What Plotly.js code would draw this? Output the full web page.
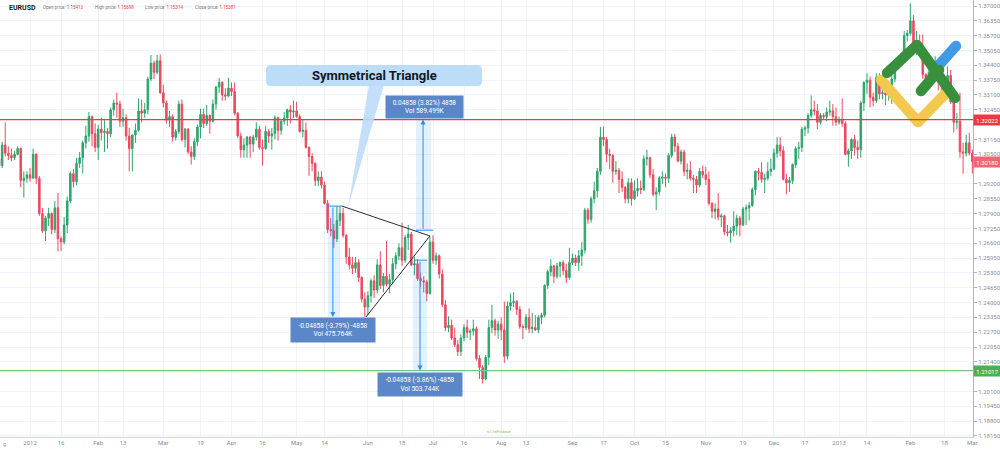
<!DOCTYPE html>
<html><head><meta charset="utf-8">
<script src="https://cdn.plot.ly/plotly-3.0.1.min.js"></script>
<style>html,body{margin:0;padding:0;background:#fff;}#chart{width:1000px;height:449px;}</style>
</head><body><div id="chart"></div>
<script>
// ---------------- data (EURUSD daily) ----------------
const symbol = 'EURUSD';
const headerLabels = ['Open price:', 'High price:', 'Low price:', 'Close price:'];
const headerValues = ['1.15413', '1.15698', '1.15314', '1.15381'];
const firstTradingDay = '2011-12-19';

const openPrices = [
1.3030,1.3000,1.3090,1.3055,1.3045,
1.3035,1.3050,1.3075,1.2935,1.2945,
1.2960,1.2945,1.3050,1.2945,1.2790,
1.2715,1.2770,1.2790,1.2720,1.2815,
1.2680,1.2665,1.2740,1.2845,1.2965,
1.2930,1.3010,1.3035,1.3100,1.3130,
1.3215,1.3140,1.3080,1.3160,1.3145,
1.3150,1.3140,1.3245,1.3275,1.3270,
1.3195,1.3210,1.3130,1.3075,1.3135,
1.3155,1.3240,1.3230,1.3245,1.3380,
1.3450,1.3410,1.3460,1.3320,1.3275,
1.3200,1.3215,1.3125,1.3150,1.3270,
1.3115,1.3160,1.3060,1.3040,1.3105,
1.3170,1.3225,1.3185,1.3220,1.3195,
1.3270,1.3345,1.3365,1.3310,1.3305,
1.3340,1.3325,1.3230,1.3130,1.3070,
1.3090,1.3125,1.3095,1.3125,1.3160,
1.3080,1.3075,1.3150,1.3130,1.3140,
1.3210,1.3155,1.3195,1.3210,1.3245,
1.3235,1.3240,1.3215,1.3150,1.3155,
1.3080,1.3040,1.3010,1.2935,1.2950,
1.2915,1.2835,1.2720,1.2715,1.2680,
1.2760,1.2790,1.2695,1.2600,1.2565,
1.2550,1.2575,1.2510,1.2415,1.2380,
1.2430,1.2495,1.2455,1.2565,1.2475,
1.2515,1.2480,1.2500,1.2570,1.2605,
1.2640,1.2585,1.2685,1.2700,1.2565,
1.2570,1.2505,1.2495,1.2490,1.2440,
1.2665,1.2585,1.2605,1.2525,1.2390,
1.2290,1.2300,1.2245,1.2215,1.2185,
1.2245,1.2290,1.2270,1.2275,1.2285,
1.2155,1.2115,1.2065,1.2160,1.2290,
1.2320,1.2280,1.2305,1.2280,1.2165,
1.2385,1.2400,1.2405,1.2370,1.2295,
1.2290,1.2335,1.2285,1.2290,1.2280,
1.2335,1.2345,1.2475,1.2535,1.2560,
1.2515,1.2560,1.2575,1.2540,1.2510,
1.2575,1.2595,1.2575,1.2605,1.2630,
1.2805,1.2765,1.2855,1.2890,1.2975,
1.3125,1.3115,1.3050,1.3045,1.2975,
1.2980,1.2940,1.2905,1.2855,1.2925,
1.2855,1.2890,1.2900,1.2895,1.3030,
1.3035,1.2960,1.2875,1.2885,1.2945,
1.2950,1.2945,1.3045,1.3125,1.3085,
1.3020,1.3060,1.2975,1.2980,1.2945,
1.2940,1.2915,1.2975,1.2960,1.2940,
1.2835,1.2800,1.2810,1.2775,1.2780,
1.2710,1.2705,1.2715,1.2735,1.2770,
1.2740,1.2810,1.2815,1.2825,1.2895,
1.2975,1.2970,1.2940,1.2945,1.2975,
1.2985,1.3055,1.3090,1.3065,1.2940,
1.2925,1.2935,1.3005,1.3075,1.3080,
1.3160,1.3165,1.3220,1.3245,1.3240,
1.3190,1.3220,1.3215,1.3235,1.3240,
1.3215,1.3190,1.3200,1.3185,1.3050,
1.3065,1.3115,1.3080,1.3070,1.3275,
1.3365,1.3375,1.3300,1.3285,1.3385,
1.3315,1.3320,1.3310,1.3315,1.3380,
1.3455,1.3450,1.3485,1.3570,1.3580,
1.3635,1.3505,1.3525,1.3515,1.3400,
1.3365,1.3410,1.3450,1.3455,1.3365,
1.3360,1.3365,1.3395,1.3280,1.3190,
1.3195,1.3060,1.3055,1.3100,1.3055];

const highPrices = [
1.3050,1.3105,1.3190,1.3085,1.3075,
1.3065,1.3085,1.3080,1.2975,1.2975,
1.2990,1.3075,1.3055,1.2955,1.2815,
1.2780,1.2815,1.2795,1.2845,1.2880,
1.2690,1.2775,1.2865,1.2975,1.2985,
1.3035,1.3060,1.3110,1.3175,1.3235,
1.3220,1.3185,1.3180,1.3210,1.3205,
1.3165,1.3255,1.3290,1.3320,1.3285,
1.3250,1.3225,1.3165,1.3135,1.3185,
1.3295,1.3290,1.3275,1.3390,1.3485,
1.3460,1.3485,1.3487,1.3355,1.3285,
1.3240,1.3225,1.3160,1.3285,1.3290,
1.3165,1.3165,1.3085,1.3120,1.3180,
1.3250,1.3250,1.3265,1.3225,1.3290,
1.3350,1.3385,1.3370,1.3340,1.3385,
1.3365,1.3365,1.3235,1.3145,1.3120,
1.3130,1.3130,1.3135,1.3190,1.3175,
1.3115,1.3175,1.3160,1.3165,1.3220,
1.3215,1.3205,1.3235,1.3250,1.3265,
1.3285,1.3280,1.3225,1.3200,1.3190,
1.3085,1.3055,1.3015,1.2975,1.2975,
1.2930,1.2850,1.2770,1.2745,1.2822,
1.2823,1.2815,1.2700,1.2640,1.2600,
1.2600,1.2590,1.2515,1.2445,1.2450,
1.2505,1.2520,1.2590,1.2625,1.2530,
1.2670,1.2525,1.2595,1.2620,1.2660,
1.2750,1.2695,1.2740,1.2710,1.2600,
1.2590,1.2530,1.2515,1.2500,1.2690,
1.2695,1.2620,1.2610,1.2545,1.2410,
1.2340,1.2325,1.2290,1.2235,1.2260,
1.2305,1.2325,1.2285,1.2325,1.2295,
1.2170,1.2125,1.2170,1.2325,1.2390,
1.2330,1.2320,1.2335,1.2405,1.2405,
1.2440,1.2445,1.2410,1.2385,1.2305,
1.2350,1.2375,1.2355,1.2345,1.2345,
1.2355,1.2480,1.2545,1.2590,1.2565,
1.2575,1.2580,1.2585,1.2570,1.2640,
1.2615,1.2610,1.2630,1.2665,1.2815,
1.2815,1.2865,1.2930,1.2990,1.3170,
1.3172,1.3125,1.3075,1.3050,1.3020,
1.2990,1.2975,1.2910,1.2945,1.2945,
1.2935,1.2945,1.2935,1.3045,1.3070,
1.3040,1.2985,1.2905,1.2955,1.2975,
1.2965,1.3055,1.3140,1.3140,1.3100,
1.3070,1.3070,1.3010,1.3020,1.2960,
1.2955,1.2990,1.3000,1.2995,1.2975,
1.2840,1.2835,1.2880,1.2790,1.2785,
1.2740,1.2730,1.2800,1.2785,1.2780,
1.2820,1.2830,1.2840,1.2905,1.2980,
1.2990,1.3015,1.2965,1.3015,1.3030,
1.3075,1.3125,1.3125,1.3085,1.2965,
1.2950,1.3010,1.3085,1.3105,1.3170,
1.3175,1.3230,1.3308,1.3285,1.3270,
1.3230,1.3230,1.3255,1.3285,1.3270,
1.3255,1.3215,1.3295,1.3195,1.3075,
1.3120,1.3135,1.3110,1.3285,1.3370,
1.3405,1.3390,1.3320,1.3405,1.3405,
1.3335,1.3355,1.3340,1.3405,1.3465,
1.3475,1.3495,1.3590,1.3595,1.3711,
1.3660,1.3590,1.3575,1.3575,1.3405,
1.3425,1.3465,1.3480,1.3470,1.3395,
1.3385,1.3435,1.3420,1.3290,1.3230,
1.3320,1.3100,1.3135,1.3145,1.3070];

const lowPrices = [
1.2985,1.2990,1.3040,1.3025,1.3020,
1.3025,1.3045,1.2905,1.2860,1.2925,
1.2930,1.2945,1.2920,1.2780,1.2705,
1.2670,1.2735,1.2700,1.2705,1.2625,
1.2625,1.2655,1.2705,1.2835,1.2905,
1.2915,1.2990,1.2965,1.3075,1.3105,
1.3085,1.3060,1.3025,1.3110,1.3060,
1.3075,1.3125,1.3220,1.3210,1.3170,
1.3170,1.3110,1.2975,1.2975,1.3100,
1.3150,1.3190,1.3210,1.3225,1.3370,
1.3380,1.3400,1.3315,1.3255,1.3185,
1.3170,1.3105,1.3110,1.3140,1.3105,
1.3080,1.3050,1.3005,1.3025,1.3085,
1.3120,1.3165,1.3175,1.3140,1.3190,
1.3245,1.3320,1.3285,1.3285,1.3300,
1.3305,1.3220,1.3120,1.3035,1.3035,
1.3035,1.3035,1.3060,1.3110,1.3070,
1.3000,1.3070,1.3100,1.3070,1.3115,
1.3110,1.3135,1.3180,1.3175,1.3185,
1.3210,1.3210,1.3145,1.3125,1.3075,
1.2955,1.2975,1.2910,1.2910,1.2900,
1.2830,1.2705,1.2690,1.2640,1.2665,
1.2735,1.2685,1.2570,1.2545,1.2525,
1.2530,1.2490,1.2400,1.2337,1.2345,
1.2400,1.2420,1.2440,1.2460,1.2445,
1.2470,1.2440,1.2480,1.2545,1.2585,
1.2560,1.2575,1.2630,1.2560,1.2520,
1.2495,1.2470,1.2445,1.2405,1.2435,
1.2570,1.2565,1.2505,1.2380,1.2275,
1.2270,1.2235,1.2205,1.2165,1.2165,
1.2230,1.2245,1.2235,1.2255,1.2145,
1.2065,1.2045,1.2060,1.2125,1.2265,
1.2255,1.2240,1.2235,1.2135,1.2150,
1.2365,1.2380,1.2345,1.2285,1.2240,
1.2280,1.2265,1.2265,1.2275,1.2265,
1.2305,1.2335,1.2460,1.2515,1.2485,
1.2505,1.2510,1.2520,1.2485,1.2500,
1.2565,1.2560,1.2540,1.2560,1.2615,
1.2745,1.2750,1.2835,1.2860,1.2960,
1.3085,1.3015,1.2985,1.2925,1.2960,
1.2880,1.2885,1.2835,1.2835,1.2825,
1.2850,1.2865,1.2875,1.2890,1.3000,
1.2945,1.2865,1.2805,1.2870,1.2920,
1.2905,1.2925,1.3035,1.3060,1.3015,
1.3005,1.2955,1.2940,1.2935,1.2880,
1.2880,1.2905,1.2945,1.2915,1.2825,
1.2770,1.2765,1.2760,1.2730,1.2695,
1.2690,1.2662,1.2690,1.2695,1.2690,
1.2735,1.2740,1.2760,1.2820,1.2870,
1.2935,1.2925,1.2880,1.2935,1.2955,
1.2980,1.3035,1.3040,1.2935,1.2875,
1.2885,1.2920,1.2990,1.3030,1.3060,
1.3130,1.3140,1.3210,1.3220,1.3160,
1.3180,1.3205,1.3195,1.3220,1.3175,
1.3175,1.3180,1.3170,1.3045,1.2995,
1.3030,1.3045,1.3030,1.3035,1.3240,
1.3315,1.3255,1.3260,1.3275,1.3290,
1.3290,1.3265,1.3285,1.3270,1.3365,
1.3420,1.3435,1.3475,1.3545,1.3570,
1.3495,1.3485,1.3510,1.3380,1.3350,
1.3355,1.3400,1.3425,1.3330,1.3315,
1.3330,1.3345,1.3270,1.3145,1.3160,
1.3035,1.2965,1.3040,1.3045,1.2965];

const closePrices = [
1.3000,1.3090,1.3055,1.3045,1.3035,
1.3050,1.3075,1.2935,1.2945,1.2960,
1.2945,1.3050,1.2945,1.2790,1.2715,
1.2770,1.2790,1.2720,1.2815,1.2680,
1.2665,1.2740,1.2845,1.2965,1.2930,
1.3010,1.3035,1.3100,1.3130,1.3215,
1.3140,1.3080,1.3160,1.3145,1.3150,
1.3140,1.3245,1.3275,1.3270,1.3195,
1.3210,1.3130,1.3075,1.3135,1.3155,
1.3240,1.3230,1.3245,1.3380,1.3450,
1.3410,1.3460,1.3320,1.3275,1.3200,
1.3215,1.3125,1.3150,1.3270,1.3115,
1.3160,1.3060,1.3040,1.3105,1.3170,
1.3225,1.3185,1.3220,1.3195,1.3270,
1.3345,1.3365,1.3310,1.3305,1.3340,
1.3325,1.3230,1.3130,1.3070,1.3090,
1.3125,1.3095,1.3125,1.3160,1.3080,
1.3075,1.3150,1.3130,1.3140,1.3210,
1.3155,1.3195,1.3210,1.3245,1.3235,
1.3240,1.3215,1.3150,1.3155,1.3080,
1.3040,1.3010,1.2935,1.2950,1.2915,
1.2835,1.2720,1.2715,1.2680,1.2760,
1.2790,1.2695,1.2600,1.2565,1.2550,
1.2575,1.2510,1.2415,1.2380,1.2430,
1.2495,1.2455,1.2565,1.2475,1.2515,
1.2480,1.2500,1.2570,1.2605,1.2640,
1.2585,1.2685,1.2700,1.2565,1.2570,
1.2505,1.2495,1.2490,1.2440,1.2665,
1.2585,1.2605,1.2525,1.2390,1.2290,
1.2300,1.2245,1.2215,1.2185,1.2245,
1.2290,1.2270,1.2275,1.2285,1.2155,
1.2115,1.2065,1.2160,1.2290,1.2320,
1.2280,1.2305,1.2280,1.2165,1.2385,
1.2400,1.2405,1.2370,1.2295,1.2290,
1.2335,1.2285,1.2290,1.2280,1.2335,
1.2345,1.2475,1.2535,1.2560,1.2515,
1.2560,1.2575,1.2540,1.2510,1.2575,
1.2595,1.2575,1.2605,1.2630,1.2805,
1.2765,1.2855,1.2890,1.2975,1.3125,
1.3115,1.3050,1.3045,1.2975,1.2980,
1.2940,1.2905,1.2855,1.2925,1.2855,
1.2890,1.2900,1.2895,1.3030,1.3035,
1.2960,1.2875,1.2885,1.2945,1.2950,
1.2945,1.3045,1.3125,1.3085,1.3020,
1.3060,1.2975,1.2980,1.2945,1.2940,
1.2915,1.2975,1.2960,1.2940,1.2835,
1.2800,1.2810,1.2775,1.2780,1.2710,
1.2705,1.2715,1.2735,1.2770,1.2740,
1.2810,1.2815,1.2825,1.2895,1.2975,
1.2970,1.2940,1.2945,1.2975,1.2985,
1.3055,1.3090,1.3065,1.2940,1.2925,
1.2935,1.3005,1.3075,1.3080,1.3160,
1.3165,1.3220,1.3245,1.3240,1.3190,
1.3220,1.3215,1.3235,1.3240,1.3215,
1.3190,1.3200,1.3185,1.3050,1.3065,
1.3115,1.3080,1.3070,1.3275,1.3365,
1.3375,1.3300,1.3285,1.3385,1.3315,
1.3320,1.3310,1.3315,1.3380,1.3455,
1.3450,1.3485,1.3570,1.3580,1.3635,
1.3505,1.3525,1.3515,1.3400,1.3365,
1.3410,1.3450,1.3455,1.3365,1.3360,
1.3365,1.3395,1.3280,1.3190,1.3195,
1.3060,1.3055,1.3100,1.3055,1.3018];

// x-axis tick labels
const tickDates = ['2012-01-02','2012-01-16','2012-02-01','2012-02-13','2012-03-01','2012-03-19','2012-04-02','2012-04-16','2012-05-01','2012-05-14','2012-06-01','2012-06-18','2012-07-02','2012-07-16','2012-08-01','2012-08-13','2012-09-03','2012-09-17','2012-10-01','2012-10-15','2012-11-01','2012-11-19','2012-12-03','2012-12-17','2013-01-01','2013-01-14','2013-02-01','2013-02-18','2013-03-01'];
const tickTexts = ['2012','16','Feb','13','Mar','19','Apr','16','May','14','Jun','18','Jul','16','Aug','13','Sep','17','Oct','15','Nov','19','Dec','17','2013','14','Feb','18','Mar'];
const leftCutTickText = '9';   // visible part of the Dec 19, 2011 label at the left edge

// y-axis tick labels (those hidden under the price tags are left out)
const yTickValues = [1.18150,1.18800,1.19450,1.20100,1.21400,1.22050,1.22700,1.23350,1.24000,1.24650,1.25300,1.25950,1.26600,1.27250,1.27900,1.28550,1.29200,1.30500,1.31150,1.32450,1.33100,1.33750,1.34400,1.35050,1.35700,1.36350,1.37000];

// horizontal levels and right-axis price labels
const levelPrices = [1.32022, 1.21017];
const lastPrice = 1.30180;

// symmetrical triangle (date, price)
const triangleUpperDates = ['2012-05-21 14:24', '2012-06-29 00:00'];
const triangleUpperPrices = [1.2823, 1.2692];
const triangleLowerDates = ['2012-05-31 09:36', '2012-06-29 00:00'];
const triangleLowerPrices = [1.2337, 1.2692];

// price range measurements
const measureStartPrices = [1.2823, 1.2717, 1.2586];
const measureEndPrices = [1.2337, 1.3202, 1.2102];
const measureArrowDates = ['2012-05-16 16:48', '2012-06-26 19:12', '2012-06-25 19:12'];
const measureBaseFrom = ['2012-05-14 19:12', '2012-06-22 12:00', '2012-06-21 21:36'];
const measureBaseTo = ['2012-05-21 14:24', '2012-07-02 00:00', '2012-06-28 02:24'];
const measureBandFrom = ['2012-05-15 02:24', '2012-06-22 12:00', '2012-06-21 14:24'];
const measureBandTo = ['2012-05-21 00:00', '2012-06-29 09:36', '2012-06-28 02:24'];
const measureTexts = ['-0.04858 (-3.79%) -4858<br>Vol 475.764K', '0.04858 (3.82%) 4858<br>Vol 589.499K', '-0.04858 (-3.86%) -4858<br>Vol 503.744K'];
const calloutText = 'Symmetrical Triangle';

// ---------------- build ----------------
function tradingDays(start, n) {
  const out = []; const d = new Date(start + 'T00:00:00Z');
  while (out.length < n) {
    const wd = d.getUTCDay();
    if (wd !== 0 && wd !== 6) out.push(d.toISOString().slice(0, 10));
    d.setUTCDate(d.getUTCDate() + 1);
  }
  return out;
}
const dates = tradingDays(firstTradingDay, closePrices.length);

const UP = '#2fa56c', DOWN = '#ec4a5f';
const PW = 973, PH = 437;
const px = v => v / PW, py = v => 1 - v / PH;
const FONT = 'Roboto, "Open Sans", sans-serif';

const trace = {
  type: 'candlestick', x: dates, open: openPrices, high: highPrices, low: lowPrices, close: closePrices,
  increasing: {line: {color: UP, width: 1}, fillcolor: UP},
  decreasing: {line: {color: DOWN, width: 1}, fillcolor: DOWN},
  whiskerwidth: 0, hoverinfo: 'skip', showlegend: false
};

const shapes = [];
const annotations = [];

// level lines
shapes.push({type: 'line', xref: 'paper', x0: 0, x1: 1, yref: 'y', y0: levelPrices[0], y1: levelPrices[0], line: {color: '#f23645', width: 1.2}});
shapes.push({type: 'line', xref: 'paper', x0: 0, x1: 1, yref: 'y', y0: levelPrices[1], y1: levelPrices[1], line: {color: '#7cc47f', width: 1.2}});

// measurement bands, base lines, arrows, labels
const labelBoxes = [[291, 318, 84, 24], [386, 96, 77, 22], [378, 373, 84, 23]];
for (let i = 0; i < 3; i++) {
  shapes.push({type: 'rect', xref: 'x', yref: 'y', x0: measureBandFrom[i], x1: measureBandTo[i], y0: measureStartPrices[i], y1: measureEndPrices[i], fillcolor: 'rgba(33,150,243,0.13)', line: {width: 0}});
  shapes.push({type: 'line', xref: 'x', yref: 'y', x0: measureBaseFrom[i], x1: measureBaseTo[i], y0: measureStartPrices[i], y1: measureStartPrices[i], line: {color: '#2f8ee8', width: 1}});
  annotations.push({x: measureArrowDates[i], y: measureEndPrices[i], ax: measureArrowDates[i], ay: measureStartPrices[i], xref: 'x', yref: 'y', axref: 'x', ayref: 'y', text: '', showarrow: true, arrowhead: 2, arrowsize: 1, arrowwidth: 1, arrowcolor: '#2f8ee8', standoff: 0, startstandoff: 0});
  const b = labelBoxes[i];
  annotations.push({xref: 'paper', yref: 'paper', x: px(b[0] + b[2] / 2), y: py(b[1] + b[3] / 2), xanchor: 'center', yanchor: 'middle', text: measureTexts[i], showarrow: false, bgcolor: '#5b87c9', borderpad: 0, width: b[2], height: b[3], align: 'center', font: {family: FONT, size: 6.5, color: '#ffffff'}});
}

// triangle
shapes.push({type: 'line', xref: 'x', yref: 'y', x0: triangleUpperDates[0], x1: triangleUpperDates[1], y0: triangleUpperPrices[0], y1: triangleUpperPrices[1], line: {color: '#2a2e39', width: 1}});
shapes.push({type: 'line', xref: 'x', yref: 'y', x0: triangleLowerDates[0], x1: triangleLowerDates[1], y0: triangleLowerPrices[0], y1: triangleLowerPrices[1], line: {color: '#2a2e39', width: 1}});

// callout box + wedge
(function () {
  const x0 = 266, x1 = 482, y0 = 65, y1 = 86, r = 5;
  const P = (x, y) => px(x).toFixed(5) + ',' + py(y).toFixed(5);
  const path = 'M' + P(x0 + r, y0) + ' L' + P(x1 - r, y0) + ' Q' + P(x1, y0) + ' ' + P(x1, y0 + r) +
    ' L' + P(x1, y1 - r) + ' Q' + P(x1, y1) + ' ' + P(x1 - r, y1) + ' L' + P(x0 + r, y1) +
    ' Q' + P(x0, y1) + ' ' + P(x0, y1 - r) + ' L' + P(x0, y0 + r) + ' Q' + P(x0, y0) + ' ' + P(x0 + r, y0) + ' Z';
  shapes.push({type: 'path', xref: 'paper', yref: 'paper', path: path, fillcolor: '#bcdcf8', line: {width: 0}});
  shapes.push({type: 'path', xref: 'paper', yref: 'paper', path: 'M' + P(369, 85) + ' L' + P(384, 85) + ' L' + P(348, 207) + ' Z', fillcolor: 'rgba(188,220,248,0.9)', line: {width: 0}});
})();
annotations.push({xref: 'paper', yref: 'paper', x: px(374), y: py(75.5), xanchor: 'center', yanchor: 'middle', showarrow: false, text: '<b>' + calloutText + '</b>', font: {family: FONT, size: 13, color: '#131722'}});

// right price labels
const priceTags = [[levelPrices[0], '#f23645'], [lastPrice, '#f26673'], [levelPrices[1], '#4caf50']];
priceTags.forEach(t => annotations.push({xref: 'paper', yref: 'y', x: 1, y: t[0], xanchor: 'left', yanchor: 'middle', showarrow: false, text: t[0].toFixed(5), bgcolor: t[1], borderpad: 0, width: 27, height: 10, align: 'center', font: {family: FONT, size: 6, color: '#ffffff'}}));

// header
annotations.push({xref: 'paper', yref: 'paper', x: px(7), y: py(7.5), xanchor: 'left', yanchor: 'middle', showarrow: false, text: '<b>' + symbol + '</b>', font: {family: FONT, size: 7, color: '#131722'}});
const headerX = [41, 93, 143, 193];
headerLabels.forEach((l, i) => annotations.push({xref: 'paper', yref: 'paper', x: px(headerX[i]), y: py(7.5), xanchor: 'left', yanchor: 'middle', showarrow: false, text: l + ' <span style="color:#f23645">' + headerValues[i] + '</span>', font: {family: FONT, size: 4.5, color: '#787b86'}}));

// left-edge cut date label
annotations.push({xref: 'paper', yref: 'paper', x: px(1), y: py(444), xanchor: 'left', yanchor: 'middle', showarrow: false, text: leftCutTickText, font: {family: FONT, size: 6, color: '#8a8d96'}});

// bottom watermark
annotations.push({xref: 'paper', yref: 'paper', x: px(499), y: py(431.5), xanchor: 'center', yanchor: 'middle', showarrow: false, text: '<span style="color:#2e8b3e">≈</span> LiteFinance', font: {family: FONT, size: 4, color: '#8bc34a'}});

// logo
const logoSvg = '<svg xmlns="http://www.w3.org/2000/svg" width="90" height="95" viewBox="0 0 90 95">' +
  '<g fill="none" stroke-linecap="round" stroke-linejoin="round" stroke-width="10.5">' +
  '<polyline points="6,45 43,87 72,57" stroke="#f2c94c"/>' +
  '<line x1="64" y1="30" x2="81" y2="11" stroke="#3f9be6"/>' +
  '<polyline points="12,38 42,10 80,63" stroke="#3a8f3f"/>' +
  '<line x1="46" y1="56" x2="64" y2="35" stroke="#3a8f3f"/>' +
  '</g></svg>';
const images = [{source: 'data:image/svg+xml;charset=utf-8,' + encodeURIComponent(logoSvg), xref: 'paper', yref: 'paper', x: px(875), y: py(35), sizex: 90 / PW, sizey: 95 / PH, xanchor: 'left', yanchor: 'top', sizing: 'stretch', layer: 'above'}];

const layout = {
  width: 1000, height: 449,
  margin: {l: 0, r: 27, t: 0, b: 12, pad: 0},
  paper_bgcolor: '#ffffff', plot_bgcolor: '#ffffff',
  showlegend: false, hovermode: false,
  font: {family: FONT},
  xaxis: {
    type: 'date', range: ['2011-12-19 07:26', '2013-03-01 04:48'],
    rangebreaks: [{bounds: ['sat', 'mon']}],
    rangeslider: {visible: false},
    tickmode: 'array', tickvals: tickDates, ticktext: tickTexts,
    showgrid: true, gridcolor: '#f0f3fa', gridwidth: 1,
    showline: true, linecolor: '#d1d4dc', linewidth: 1,
    ticks: '', tickfont: {family: FONT, size: 6, color: '#8a8d96'},
    zeroline: false, automargin: false, fixedrange: true
  },
  yaxis: {
    side: 'right', range: [1.18105, 1.37263],
    tickmode: 'array', tickvals: yTickValues, ticktext: yTickValues.map(v => v.toFixed(5)),
    showgrid: true, gridcolor: '#f0f3fa', gridwidth: 1,
    showline: true, linecolor: '#b2b5be', linewidth: 1,
    ticks: 'outside', ticklen: 3, tickcolor: '#b2b5be',
    tickfont: {family: FONT, size: 6, color: '#8a8d96'},
    zeroline: false, automargin: false, fixedrange: true
  },
  shapes: shapes, annotations: annotations, images: images
};

Plotly.newPlot('chart', [trace], layout, {staticPlot: true, displayModeBar: false});
</script></body></html>
